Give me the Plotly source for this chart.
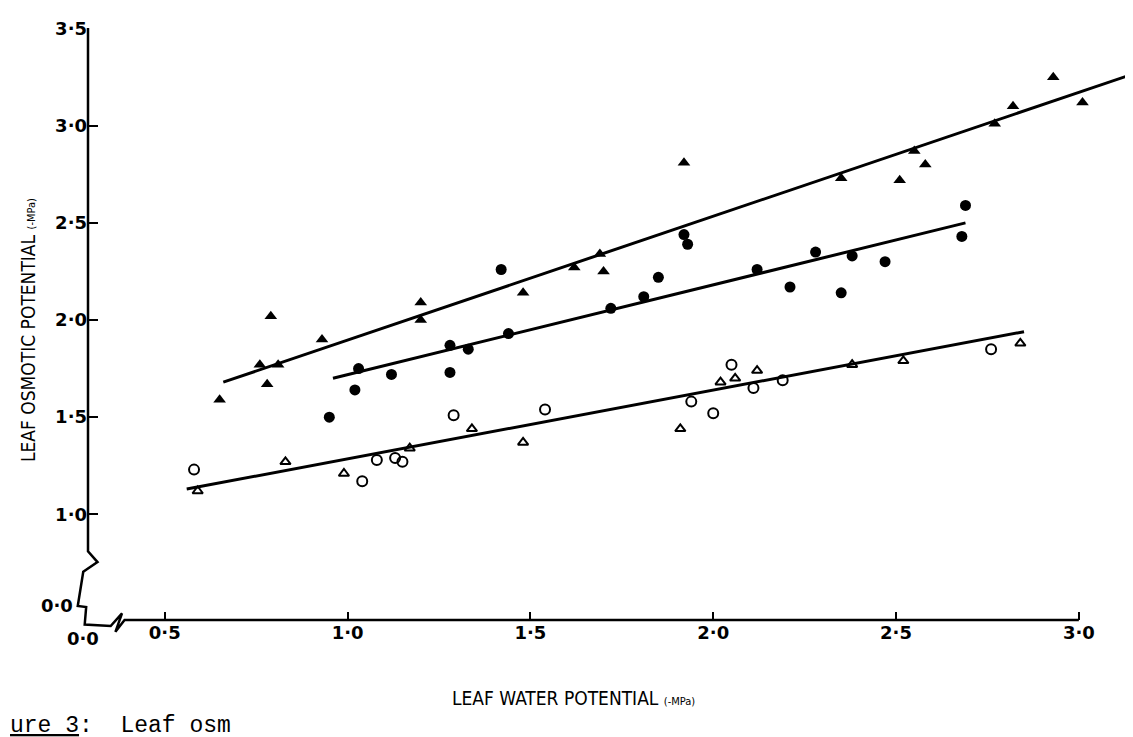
import plotly.graph_objects as go

# ---------------- data (axis rotation removed) ----------------
# Filled triangles
ftri_x = [0.65, 0.78, 0.76, 0.79, 0.81, 0.93, 1.20, 1.20, 1.48, 1.62, 1.69, 1.70,
          1.92, 2.35, 2.51, 2.55, 2.58, 2.77, 2.82, 2.93, 3.01, 3.16]
ftri_y = [1.59, 1.67, 1.77, 2.02, 1.77, 1.90, 2.09, 2.00, 2.14, 2.27, 2.34, 2.25,
          2.81, 2.73, 2.72, 2.87, 2.80, 3.01, 3.10, 3.25, 3.12, 3.31]
# Filled circles
fcir_x = [0.95, 1.02, 1.03, 1.12, 1.28, 1.28, 1.33, 1.42, 1.44, 1.72, 1.81, 1.85,
          1.92, 1.93, 2.12, 2.21, 2.28, 2.35, 2.38, 2.47, 2.68, 2.69]
fcir_y = [1.50, 1.64, 1.75, 1.72, 1.87, 1.73, 1.85, 2.26, 1.93, 2.06, 2.12, 2.22,
          2.44, 2.39, 2.26, 2.17, 2.35, 2.14, 2.33, 2.30, 2.43, 2.59]
# Open circles
ocir_x = [0.58, 1.04, 1.08, 1.13, 1.15, 1.29, 1.54, 1.94, 2.00, 2.05, 2.11, 2.19, 2.76]
ocir_y = [1.23, 1.17, 1.28, 1.29, 1.27, 1.51, 1.54, 1.58, 1.52, 1.77, 1.65, 1.69, 1.85]
# Open triangles
otri_x = [0.59, 0.83, 0.99, 1.17, 1.34, 1.48, 1.91, 2.02, 2.06, 2.12, 2.38, 2.52, 2.84]
otri_y = [1.12, 1.27, 1.21, 1.34, 1.44, 1.37, 1.44, 1.68, 1.70, 1.74, 1.77, 1.79, 1.88]

# Fitted regression lines (end points)
fit_upper_x = [0.66, 3.17]
fit_upper_y = [1.68, 3.28]
fit_middle_x = [0.96, 2.69]
fit_middle_y = [1.70, 2.50]
fit_lower_x = [0.56, 2.85]
fit_lower_y = [1.13, 1.94]

# Axis ticks
x_tick_vals = [0.5, 1.0, 1.5, 2.0, 2.5, 3.0]
x_tick_text = ["0·5", "1·0", "1·5", "2·0", "2·5", "3·0"]
y_tick_vals = [1.0, 1.5, 2.0, 2.5, 3.0, 3.5]
y_tick_text = ["1·0", "1·5", "2·0", "2·5", "3·0", "3·5"]

# ---------------- layout constants ----------------
W, H = 1133, 737
ML, MR, MT, MB = 80, 0, 20, 125
X_RANGE = [0.29, 3.17]
Y_RANGE = [0.456, 3.503]
PW, PH = W - ML - MR, H - MT - MB

TICK_FONT = dict(family="DejaVu Sans, Liberation Sans, sans-serif", size=18,
                 color="black", weight=700)
TITLE_FONT = dict(family="Liberation Sans Narrow, DejaVu Sans Condensed, sans-serif",
                  size=19, color="black")


def xp(v):
    return (v - X_RANGE[0]) / (X_RANGE[1] - X_RANGE[0])


def yp(v):
    return (v - Y_RANGE[0]) / (Y_RANGE[1] - Y_RANGE[0])


def px_x(p):
    return (p - ML) / PW


def px_y(p):
    return (H - MB - p) / PH


fig = go.Figure()

line_style = dict(color="black", width=3)
for lx, ly in [(fit_upper_x, fit_upper_y), (fit_middle_x, fit_middle_y),
               (fit_lower_x, fit_lower_y)]:
    fig.add_trace(go.Scatter(x=lx, y=ly, mode="lines", line=line_style,
                             showlegend=False, hoverinfo="skip"))

fig.add_trace(go.Scatter(x=ftri_x, y=ftri_y, mode="markers", showlegend=False,
                         marker=dict(symbol="triangle-up", size=11, color="black")))
fig.add_trace(go.Scatter(x=fcir_x, y=fcir_y, mode="markers", showlegend=False,
                         marker=dict(symbol="circle", size=11, color="black")))
fig.add_trace(go.Scatter(x=ocir_x, y=ocir_y, mode="markers", showlegend=False,
                         marker=dict(symbol="circle-open", size=10, color="black",
                                     line=dict(width=2, color="black"))))
fig.add_trace(go.Scatter(x=otri_x, y=otri_y, mode="markers", showlegend=False,
                         marker=dict(symbol="triangle-up-open", size=9, color="black",
                                     line=dict(width=2, color="black"))))

# broken axes drawn as one path (paper coordinates)
axis_pts = [(0.29, 3.503), (0.29, 0.81), (0.316, 0.754), (0.277, 0.704), (0.262, 0.528),
            (0.285, 0.523), (0.281, 0.433), (0.352, 0.425), (0.383, 0.49), (0.365, 0.395),
            (0.39, 0.456), (3.0, 0.456)]
path = "M " + " L ".join(f"{xp(a):.5f},{yp(b):.5f}" for a, b in axis_pts)

fig.update_layout(
    width=W, height=H,
    margin=dict(l=ML, r=MR, t=MT, b=MB),
    paper_bgcolor="white", plot_bgcolor="white",
    showlegend=False,
    xaxis=dict(range=X_RANGE, tickvals=x_tick_vals, ticktext=x_tick_text,
               ticks="inside", ticklen=8, tickwidth=2, tickcolor="black",
               showline=False, showgrid=False, zeroline=False,
               tickfont=TICK_FONT),
    yaxis=dict(range=Y_RANGE, tickvals=y_tick_vals, ticktext=y_tick_text,
               ticks="inside", ticklen=10, tickwidth=2, tickcolor="black",
               showline=False, showgrid=False, zeroline=False,
               tickfont=TICK_FONT),
    shapes=[dict(type="path", path=path, xref="paper", yref="paper",
                 line=dict(color="black", width=2.5))],
    annotations=[
        dict(text="LEAF WATER POTENTIAL <span style='font-size:11px'>(-MPa)</span>",
             xref="paper", yref="paper", x=px_x(565), y=px_y(690),
             xanchor="center", yanchor="middle", showarrow=False, font=TITLE_FONT),
        dict(text="LEAF OSMOTIC POTENTIAL <span style='font-size:11px'>(-MPa)</span>",
             xref="paper", yref="paper", x=px_x(20), y=px_y(322), textangle=-90,
             xanchor="center", yanchor="middle", showarrow=False, font=TITLE_FONT),
        dict(text="0·0", xref="paper", yref="paper", x=xp(0.255), y=yp(0.53),
             xanchor="right", yanchor="middle", showarrow=False, font=TICK_FONT),
        dict(text="0·0", xref="paper", yref="paper", x=xp(0.275), y=yp(0.425),
             xanchor="center", yanchor="top", showarrow=False, font=TICK_FONT),
        dict(text="<u>ure 3</u>:  Leaf osm", xref="paper", yref="paper",
             x=px_x(0), y=px_y(718),
             xanchor="left", yanchor="middle", showarrow=False,
             font=dict(family="Liberation Mono, DejaVu Sans Mono, monospace",
                       size=23, color="black")),
    ],
)

fig.write_html("out.html")
